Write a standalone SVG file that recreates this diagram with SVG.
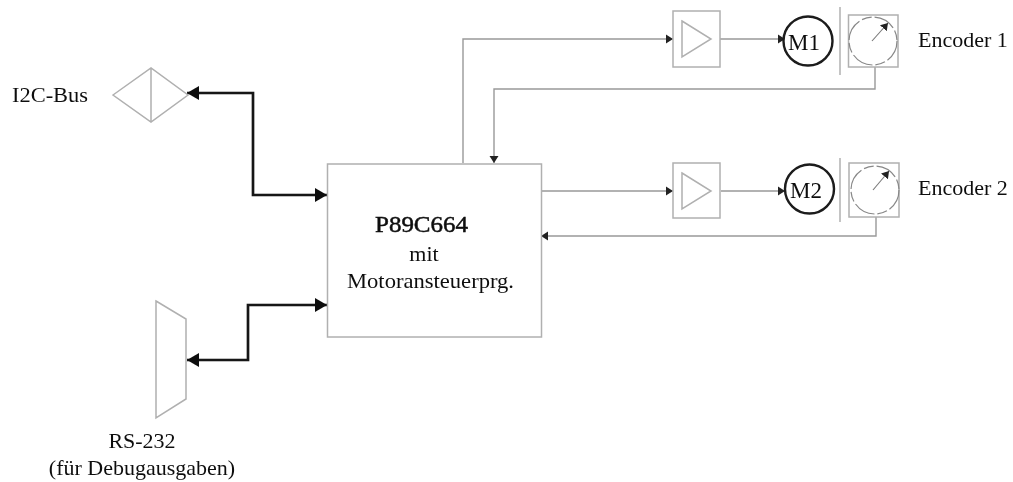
<svg xmlns="http://www.w3.org/2000/svg" width="1013" height="482" viewBox="0 0 1013 482">
<style>
text{font-family:"Liberation Serif","Times New Roman",serif;fill:#111;font-size:22px}
.m{text-anchor:middle}
.b{fill:none;stroke:#b0b0b0;stroke-width:1.5}
.c{fill:none;stroke:#999;stroke-width:1.4}
.t{fill:none;stroke:#141414;stroke-width:2.7}
.mot{fill:#fff;stroke:#1a1a1a;stroke-width:2.4}
.d{fill:none;stroke:#888;stroke-width:1.2;stroke-dasharray:22 3 10 3}
.p{fill:none;stroke:#777;stroke-width:1.1}
.mt{font-size:23px}
</style>
<defs>
<filter id="soft" x="0" y="0" width="100%" height="100%"><feGaussianBlur stdDeviation="0.45"/></filter>
<marker id="a" markerUnits="userSpaceOnUse" markerWidth="8" markerHeight="10" refX="7" refY="5" orient="auto"><path d="M0 0.500L7 5L0 9.500Z" fill="#222"/></marker>
<marker id="A" markerUnits="userSpaceOnUse" markerWidth="13" markerHeight="14" refX="12" refY="7" orient="auto"><path d="M0 0L12 7L0 14Z" fill="#111"/></marker>
<marker id="S" markerUnits="userSpaceOnUse" markerWidth="13" markerHeight="14" refX="0" refY="7" orient="auto"><path d="M0 7L12 0V14Z" fill="#111"/></marker>
</defs>
<g filter="url(#soft)">
<g id="connectors">
<path class="c" d="M463 163V39H673" marker-end="url(#a)"/>
<path class="c" d="M720 39H785" marker-end="url(#a)"/>
<path class="c" d="M875 67V89H494V163" marker-end="url(#a)"/>
<path class="c" d="M541 191H673" marker-end="url(#a)"/>
<path class="c" d="M721 191H785" marker-end="url(#a)"/>
<path class="c" d="M876 217V236H541" marker-end="url(#a)"/>
<path class="t" d="M187 93H253V195H327" marker-start="url(#S)" marker-end="url(#A)"/>
<path class="t" d="M187 360H248V305H327" marker-start="url(#S)" marker-end="url(#A)"/>
</g>
<g id="i2c"><path class="b" d="M113 95L151 68L188 95L151 122ZM151 68V122"/><text x="12" y="102" textLength="76" lengthAdjust="spacingAndGlyphs">I2C-Bus</text></g>
<g id="rs232"><path class="b" d="M156 301L186 319V399L156 418Z"/><text class="m" x="142" y="448">RS-232</text><text class="m" x="142" y="475">(für Debugausgaben)</text></g>
<g id="cpu"><rect class="b" x="327.500" y="164" width="214" height="173"/>
<text x="375" y="232" class="mt" textLength="93" lengthAdjust="spacingAndGlyphs" style="stroke:#111;stroke-width:.5">P89C664</text><text class="m" x="424" y="261">mit</text><text x="347" y="288" textLength="167" lengthAdjust="spacingAndGlyphs">Motoransteuerprg.</text></g>
<g id="amp1"><rect class="b" x="673" y="11" width="47" height="56"/><path class="b" d="M682 21L711 39L682 57Z"/></g>
<g id="m1"><circle class="mot" cx="808" cy="41" r="24.500"/><text class="m mt" x="804" y="50">M1</text></g>
<g id="enc1"><path class="b" d="M840 7V75"/><rect class="b" x="848.500" y="15" width="49.500" height="52"/><circle class="d" cx="873" cy="41" r="24"/><path class="p" d="M872 41L888 23" marker-end="url(#a)"/><text x="918" y="47">Encoder 1</text></g>
<g id="amp2"><rect class="b" x="673" y="163" width="47" height="55"/><path class="b" d="M682 173L711 191L682 209Z"/></g>
<g id="m2"><circle class="mot" cx="809.500" cy="189" r="24.500"/><text class="m mt" x="806" y="198">M2</text></g>
<g id="enc2"><path class="b" d="M840 158V222"/><rect class="b" x="849" y="163" width="50" height="54"/><circle class="d" cx="875" cy="190" r="24"/><path class="p" d="M873 190L889 171" marker-end="url(#a)"/><text x="918" y="195">Encoder 2</text></g>
</g>
</svg>
